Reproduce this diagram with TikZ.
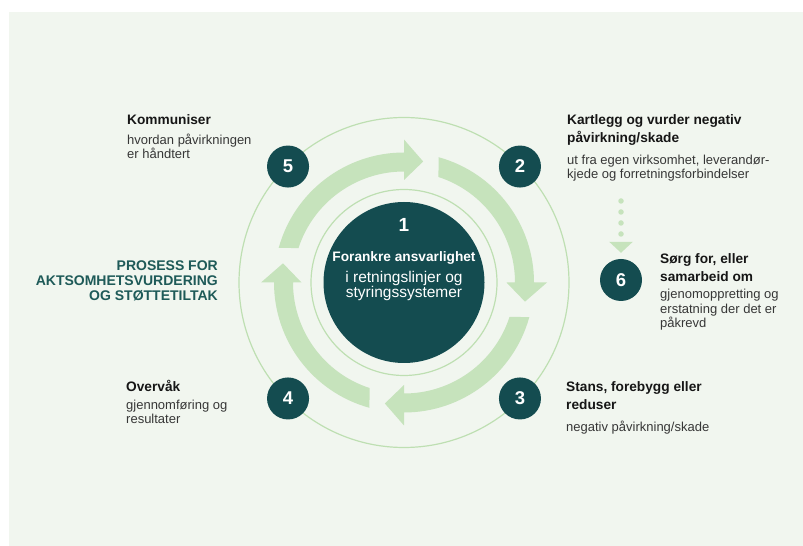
\documentclass[tikz,border=0pt]{standalone}
\usepackage{fontspec}
\setmainfont{Liberation Sans}
\usetikzlibrary{arrows.meta,calc}
\definecolor{darkteal}{RGB}{20,76,80}
\definecolor{headteal}{RGB}{30,90,88}
\definecolor{arrowgreen}{RGB}{198,227,188}
\definecolor{ringgreen}{RGB}{190,223,178}
\definecolor{panelbg}{RGB}{241,246,239}
\definecolor{titlecol}{RGB}{22,22,22}
\definecolor{bodycol}{RGB}{55,55,55}
\newcommand{\cyclearrow}[1]{%
  \fill[arrowgreen] ($(C)+({#1+74.6}:130)$) arc[start angle={#1+74.6}, end angle={#1}, radius=130]
    -- ($(C)+({#1}:143)$) -- ($(C)+({#1-9}:122.5)$) -- ($(C)+({#1}:102.5)$)
    -- ($(C)+({#1}:111)$) arc[start angle={#1}, end angle={#1+71.9}, radius=111] -- cycle;}
\begin{document}
\begin{tikzpicture}[x=1pt,y=1pt,
  thinring/.style={draw=ringgreen, line width=1.2pt},
  centerdisc/.style={circle, fill=darkteal, minimum size=161pt, inner sep=0pt},
  badge/.style={circle, fill=darkteal, text=white, minimum size=42pt, inner sep=0pt,
    font=\bfseries\fontsize{18.5}{18.5}\selectfont},
  titletext/.style={anchor=base west, align=left, inner sep=0pt, text=titlecol,
    font=\bfseries\fontsize{13.7}{18}\selectfont},
  bodytext/.style={anchor=base west, align=left, inner sep=0pt, text=bodycol,
    font=\fontsize{13}{14.7}\selectfont},
  headtext/.style={anchor=base east, align=right, inner sep=0pt, text=headteal,
    font=\bfseries\fontsize{14}{15.2}\selectfont},
  centertext/.style={anchor=base, inner sep=0pt, text=white},
  dotline/.style={draw=arrowgreen, line width=5.5pt, line cap=round, dash pattern=on 0pt off 11pt,
    -{Triangle[width=23pt,length=11pt]}, shorten >=6pt}
]
\useasboundingbox (0,0) rectangle (803,546);
\fill[white] (0,0) rectangle (803,546);
\fill[panelbg] (9,0) rectangle (803,534);

\coordinate (C) at (404,263.5);
\draw[thinring] (C) circle[radius=165];
\draw[thinring] (C) circle[radius=93];
\node[centerdisc] (n1) at (C) {};

\cyclearrow{90}
\cyclearrow{0}
\cyclearrow{-90}
\cyclearrow{-180}

\node[centertext, font=\bfseries\fontsize{19}{19}\selectfont] (c1) at ($(C)+(0,50.5)$) {1};
\node[centertext, font=\bfseries\fontsize{13.7}{13.7}\selectfont] (c2) at ($(C)+(0,20.5)$) {Forankre ansvarlighet};
\node[centertext, font=\fontsize{15.5}{15.5}\selectfont] (c3) at ($(C)+(0,-0.5)$) {i retningslinjer og};
\node[centertext, font=\fontsize{15.5}{15.5}\selectfont] (c4) at ($(C)+(0,-15.5)$) {styringssystemer};

\node[badge] (b5) at ($(C)+(135:164)$) {5};
\node[badge] (b2) at ($(C)+(45:164)$) {2};
\node[badge] (b3) at ($(C)+(-45:164)$) {3};
\node[badge] (b4) at ($(C)+(-135:164)$) {4};
\node[badge] (b6) at (621,266) {6};

\coordinate (dotstart) at (621,345);
\draw[dotline] (dotstart) -- (b6);

% anchor points are the baseline of each block's last line
\node[titletext] (t5) at (127,421) {Kommuniser};
\node[bodytext] (d5) at (127,387) {hvordan påvirkningen\\er håndtert};

\node[titletext] (t2) at (567,403) {Kartlegg og vurder negativ\\påvirkning/skade};
\node[bodytext] (d2) at (567,367) {ut fra egen virksomhet, leverandør-\\kjede og forretningsforbindelser};

\node[titletext] (t6) at (660,264) {Sørg for, eller\\samarbeid om};
\node[bodytext] (d6) at (660,218) {gjenomoppretting og\\erstatning der det er\\påkrevd};

\node[titletext] (t3) at (566,136) {Stans, forebygg eller\\reduser};
\node[bodytext] (d3) at (566,114) {negativ påvirkning/skade};

\node[titletext] (t4) at (126,154) {Overvåk};
\node[bodytext] (d4) at (126,122) {gjennomføring og\\resultater};

\node[headtext] (head) at (218,245.5) {PROSESS FOR\\AKTSOMHETSVURDERING\\OG STØTTETILTAK};
\end{tikzpicture}
\end{document}
